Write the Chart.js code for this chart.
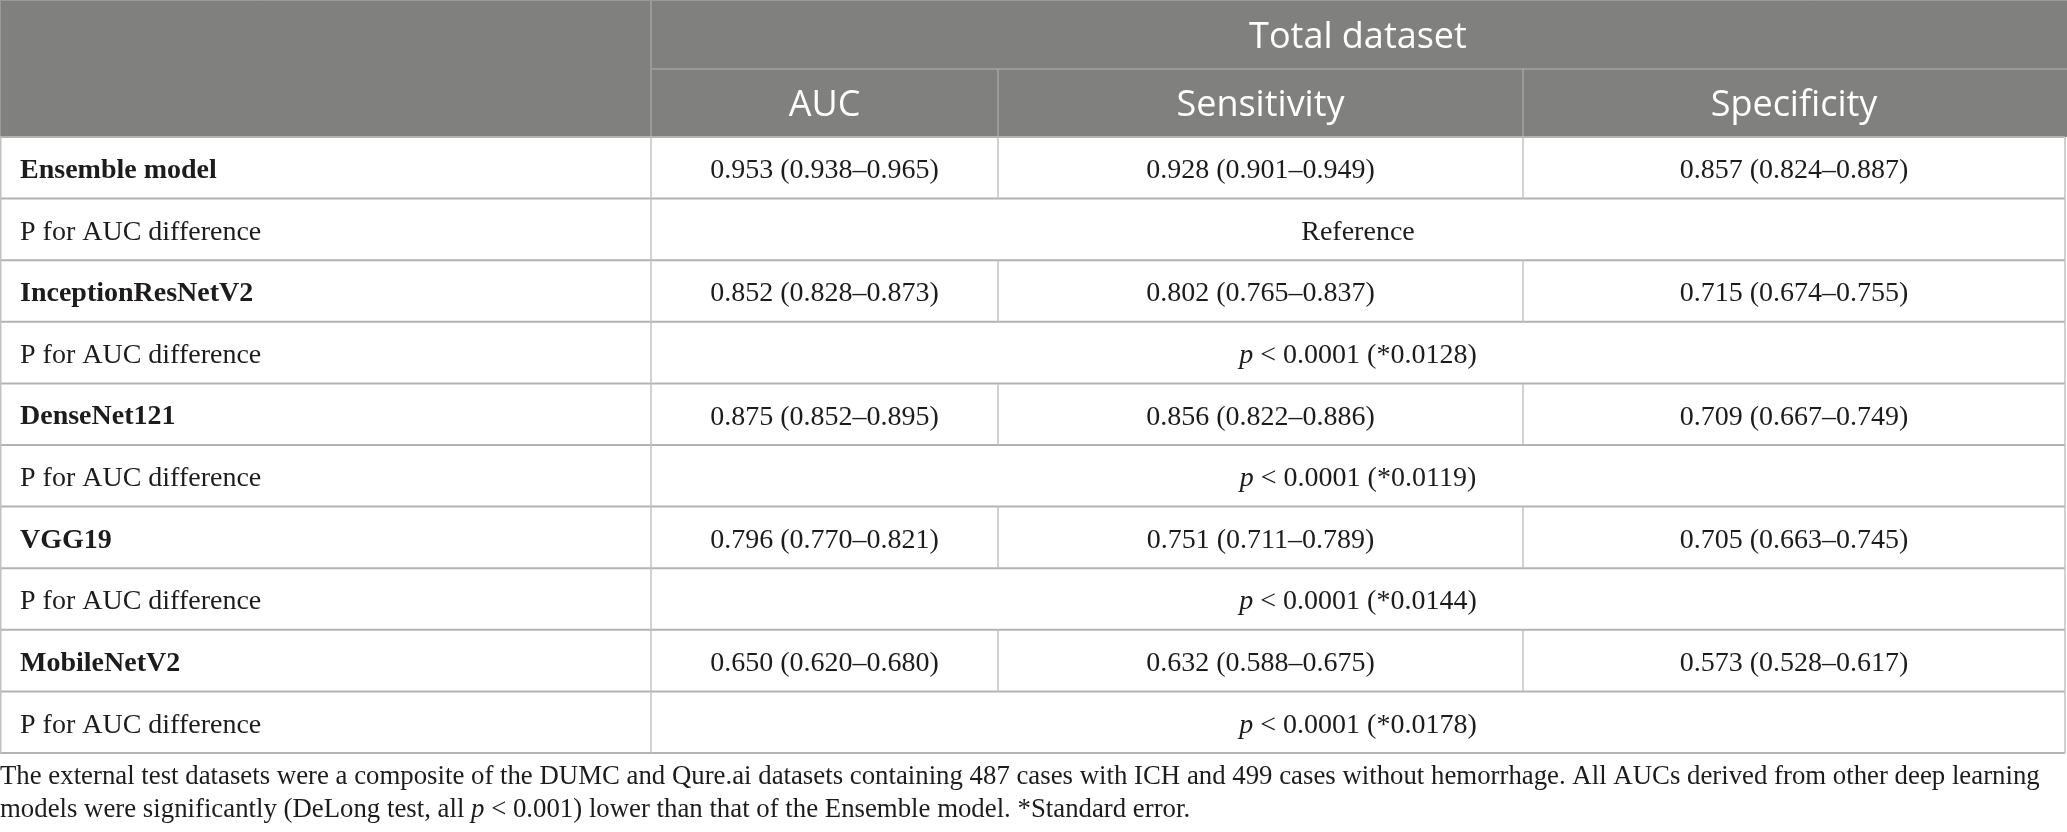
<!DOCTYPE html>
<html>
<head>
<meta charset="utf-8">
<script src="https://cdn.jsdelivr.net/npm/chart.js@4.4.1/dist/chart.umd.min.js"></script>
<style>
html,body{margin:0;padding:0;background:#fff;}
#wrap{width:2067px;height:832px;position:relative;}
</style>
</head>
<body>
<div id="wrap"><canvas id="c"></canvas></div>
<script>
// ---------- data ----------
const groupHeader = 'Total dataset';
const metricColumns = ['AUC', 'Sensitivity', 'Specificity'];
const models = ['Ensemble model', 'InceptionResNetV2', 'DenseNet121', 'VGG19', 'MobileNetV2'];
const aucValues = ['0.953 (0.938–0.965)', '0.852 (0.828–0.873)', '0.875 (0.852–0.895)', '0.796 (0.770–0.821)', '0.650 (0.620–0.680)'];
const sensitivityValues = ['0.928 (0.901–0.949)', '0.802 (0.765–0.837)', '0.856 (0.822–0.886)', '0.751 (0.711–0.789)', '0.632 (0.588–0.675)'];
const specificityValues = ['0.857 (0.824–0.887)', '0.715 (0.674–0.755)', '0.709 (0.667–0.749)', '0.705 (0.663–0.745)', '0.573 (0.528–0.617)'];
const pRowLabel = 'P for AUC difference';
const pThreshold = '0.0001';
const standardErrors = [null, '0.0128', '0.0119', '0.0144', '0.0178'];
const referenceText = 'Reference';
const footnoteLine1 = 'The external test datasets were a composite of the DUMC and Qure.ai datasets containing 487 cases with ICH and 499 cases without hemorrhage. All AUCs derived from other deep learning';
const footnoteLine2a = 'models were significantly (DeLong test, all ';
const footnoteLine2b = ' < 0.001) lower than that of the Ensemble model. *Standard error.';

// ---------- layout (style constants) ----------
const W = 2067, H = 832;
const colEdges = [0, 651, 998, 1523, 2065];
const headerEdges = [0, 69, 137];
const bodyTop = 137, bodyBottom = 753;
const footBaselines = [784, 817];
const serif = '"Liberation Serif", "Times New Roman", serif';
const sans = '"Open Sans", "Noto Sans", sans-serif';

function drawRuns(ctx, runs, x, y, align, size) {
  let total = 0;
  const widths = runs.map(r => {
    ctx.font = (r.italic ? 'italic ' : '') + (r.bold ? 'bold ' : '') + size + 'px ' + serif;
    const w = ctx.measureText(r.text).width; total += w; return w;
  });
  let cx = align === 'center' ? x - total / 2 : x;
  ctx.textAlign = 'left';
  runs.forEach((r, i) => {
    ctx.font = (r.italic ? 'italic ' : '') + (r.bold ? 'bold ' : '') + size + 'px ' + serif;
    ctx.fillText(r.text, cx, y);
    cx += widths[i];
  });
}

const tablePlugin = {
  id: 'tablePlugin',
  afterDraw(chart) {
    const ctx = chart.ctx;
    const xs = chart.scales.x, ys = chart.scales.y;
    const X = v => xs.getPixelForValue(v);
    const Y = v => ys.getPixelForValue(v);
    const nRows = models.length * 2;
    const rowH = (bodyBottom - bodyTop) / nRows;
    const rowTop = i => bodyTop + i * rowH;
    ctx.save();

    // header background
    ctx.fillStyle = '#80817f';
    ctx.fillRect(X(0), Y(0), X(W) - X(0), Y(headerEdges[2]) - Y(0));

    // header lines
    ctx.strokeStyle = '#a2a2a1';
    ctx.lineWidth = 1.5;
    ctx.beginPath();
    ctx.moveTo(X(colEdges[1]), Y(headerEdges[1])); ctx.lineTo(X(W), Y(headerEdges[1]));
    ctx.moveTo(X(colEdges[1]), Y(0)); ctx.lineTo(X(colEdges[1]), Y(headerEdges[2]));
    ctx.moveTo(X(colEdges[2]), Y(headerEdges[1])); ctx.lineTo(X(colEdges[2]), Y(headerEdges[2]));
    ctx.moveTo(X(colEdges[3]), Y(headerEdges[1])); ctx.lineTo(X(colEdges[3]), Y(headerEdges[2]));
    ctx.stroke();
    ctx.strokeStyle = '#9a9b99';
    ctx.lineWidth = 1;
    ctx.beginPath();
    ctx.moveTo(X(0) + 0.5, Y(0)); ctx.lineTo(X(0) + 0.5, Y(headerEdges[2]));
    ctx.moveTo(X(0), Y(0) + 0.5); ctx.lineTo(X(W), Y(0) + 0.5);
    ctx.stroke();

    // header text
    ctx.fillStyle = '#ffffff';
    ctx.textBaseline = 'middle';
    ctx.textAlign = 'center';
    ctx.font = '36px ' + sans;
    ctx.fillText(groupHeader, (X(colEdges[1]) + X(colEdges[4])) / 2, (Y(headerEdges[0]) + Y(headerEdges[1])) / 2 + 3);
    metricColumns.forEach((c, j) => {
      ctx.fillText(c, (X(colEdges[j + 1]) + X(colEdges[j + 2])) / 2, (Y(headerEdges[1]) + Y(headerEdges[2])) / 2 + 3);
    });

    // body grid: horizontal lines
    ctx.strokeStyle = '#b3b3b3';
    ctx.lineWidth = 2;
    ctx.beginPath();
    for (let i = 0; i <= nRows; i++) {
      const yy = Y(rowTop(i));
      ctx.moveTo(X(0), yy); ctx.lineTo(X(colEdges[4]), yy);
    }
    ctx.stroke();
    // vertical lines
    ctx.strokeStyle = '#c2c2c2';
    ctx.lineWidth = 1.5;
    ctx.beginPath();
    ctx.moveTo(X(0) + 0.75, Y(bodyTop)); ctx.lineTo(X(0) + 0.75, Y(bodyBottom));
    ctx.moveTo(X(colEdges[4]), Y(bodyTop)); ctx.lineTo(X(colEdges[4]), Y(bodyBottom));
    ctx.moveTo(X(colEdges[1]), Y(bodyTop)); ctx.lineTo(X(colEdges[1]), Y(bodyBottom));
    models.forEach((m, k) => {
      const t = rowTop(2 * k), b = rowTop(2 * k + 1);
      ctx.moveTo(X(colEdges[2]), Y(t)); ctx.lineTo(X(colEdges[2]), Y(b));
      ctx.moveTo(X(colEdges[3]), Y(t)); ctx.lineTo(X(colEdges[3]), Y(b));
    });
    ctx.stroke();

    // body text
    ctx.fillStyle = '#1d1b1c';
    ctx.textBaseline = 'middle';
    const size = 28;
    const cols = [aucValues, sensitivityValues, specificityValues];
    models.forEach((m, k) => {
      const ym = (Y(rowTop(2 * k)) + Y(rowTop(2 * k + 1))) / 2 + 3;
      drawRuns(ctx, [{ text: m, bold: true }], X(20), ym, 'left', size);
      cols.forEach((arr, j) => {
        drawRuns(ctx, [{ text: arr[k] }], (X(colEdges[j + 1]) + X(colEdges[j + 2])) / 2, ym, 'center', size);
      });
      const yp = (Y(rowTop(2 * k + 1)) + Y(rowTop(2 * k + 2))) / 2 + 3;
      drawRuns(ctx, [{ text: pRowLabel }], X(20), yp, 'left', size);
      const cx = (X(colEdges[1]) + X(colEdges[4])) / 2;
      if (standardErrors[k] === null) {
        drawRuns(ctx, [{ text: referenceText }], cx, yp, 'center', size);
      } else {
        drawRuns(ctx, [{ text: 'p', italic: true }, { text: ' < ' + pThreshold + ' (*' + standardErrors[k] + ')' }], cx, yp, 'center', size);
      }
    });

    // footnote
    ctx.textBaseline = 'alphabetic';
    drawRuns(ctx, [{ text: footnoteLine1 }], X(0), Y(footBaselines[0]), 'left', 26.8);
    drawRuns(ctx, [{ text: footnoteLine2a }, { text: 'p', italic: true }, { text: footnoteLine2b }], X(0), Y(footBaselines[1]), 'left', 26.8);
    ctx.restore();
  }
};

new Chart(document.getElementById('c'), {
  type: 'scatter',
  data: { datasets: [{ data: [], pointRadius: 0 }] },
  options: {
    responsive: true,
    maintainAspectRatio: false,
    animation: false,
    layout: { padding: 0 },
    plugins: { legend: { display: false }, tooltip: { enabled: false } },
    scales: {
      x: { type: 'linear', min: 0, max: W, display: false },
      y: { type: 'linear', min: 0, max: H, reverse: true, display: false }
    }
  },
  plugins: [tablePlugin]
});
</script>
</body>
</html>
